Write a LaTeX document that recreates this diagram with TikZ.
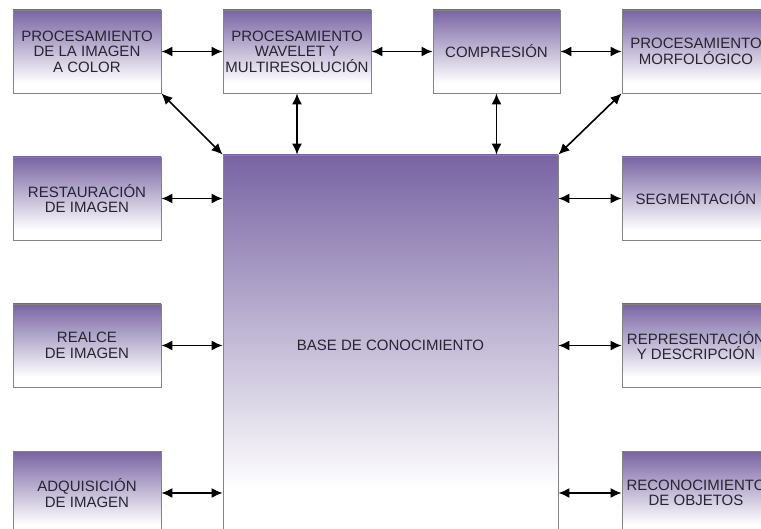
\documentclass[tikz,border=0pt]{standalone}
\usepackage{fontspec}
\setmainfont{Liberation Sans}
\usetikzlibrary{arrows.meta}
\definecolor{lila}{RGB}{120,100,163}
\definecolor{borde}{RGB}{130,130,135}
\definecolor{texto}{RGB}{40,36,50}
\pgfdeclareverticalshading{desvanece}{100bp}{color(0bp)=(white); color(25bp)=(white); color(31bp)=(white); color(75bp)=(lila); color(100bp)=(lila)}
\tikzset{flecha/.style={{Latex[length=11pt,width=10pt]}-{Latex[length=11pt,width=10pt]},line width=1.6pt}}
\begin{document}
\begin{tikzpicture}[x=1pt,y=-1pt]
      \useasboundingbox (0,0) rectangle (761,529);
      \clip (0,0) rectangle (761,529);
      \begin{scope}[every node/.style={draw=borde,line width=0.8pt,shading=desvanece,text=texto,align=center,
          font=\fontsize{15}{15.5}\selectfont,minimum width=148pt,minimum height=83pt,inner sep=0pt}]
        \node (PC) at (87, 51.5) {PROCESAMIENTO\\DE LA IMAGEN\\A COLOR};
        \node (WV) at (297, 51.5) {PROCESAMIENTO\\WAVELET Y\\MULTIRESOLUCIÓN};
        \node[minimum width=127pt] (CP) at (496.5, 51.5) {COMPRESIÓN};
        \node (MF) at (696, 51.5) {PROCESAMIENTO\\MORFOLÓGICO};
        \node (RS) at (87, 198.5) {RESTAURACIÓN\\DE IMAGEN};
        \node (RL) at (87, 345.5) {REALCE\\DE IMAGEN};
        \node (AD) at (87, 493) {ADQUISICIÓN\\DE IMAGEN};
        \node (SG) at (696, 198.5) {SEGMENTACIÓN};
        \node (RD) at (696, 345.5) {REPRESENTACIÓN\\Y DESCRIPCIÓN};
        \node (RO) at (696, 493) {RECONOCIMIENTO\\DE OBJETOS};
        \node[minimum width=335pt,minimum height=380pt] (BC) at (390.5, 345) {BASE DE CONOCIMIENTO};
      \end{scope}
      \draw[flecha] (PC) -- (WV);
      \draw[flecha] (WV) -- (CP);
      \draw[flecha] (CP) -- (MF);
      \draw[flecha] (WV.south) -- (WV.south |- BC.north);
      \draw[flecha] (CP.south) -- (CP.south |- BC.north);
      \draw[flecha] (PC.south east) -- (BC.north west);
      \draw[flecha] (MF.south west) -- (BC.north east);
      \draw[flecha] (RS.east) -- (RS.east -| BC.west);
      \draw[flecha] (RL.east) -- (RL.east -| BC.west);
      \draw[flecha] (AD.east) -- (AD.east -| BC.west);
      \draw[flecha] (SG.west) -- (SG.west -| BC.east);
      \draw[flecha] (RD.west) -- (RD.west -| BC.east);
      \draw[flecha] (RO.west) -- (RO.west -| BC.east);
    \end{tikzpicture}
\end{document}
